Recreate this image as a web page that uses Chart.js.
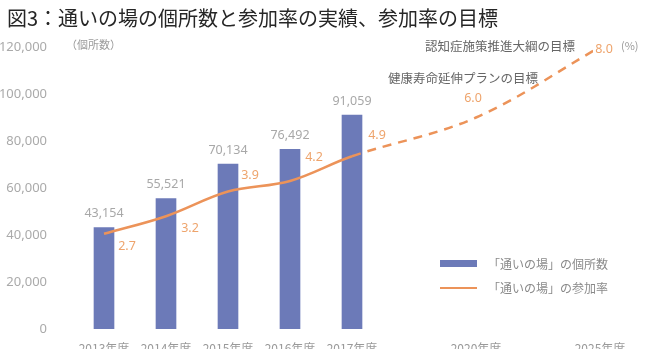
<!DOCTYPE html>
<html>
<head>
<meta charset="utf-8">
<script src="https://cdn.jsdelivr.net/npm/chart.js@4"></script>
<style>
  html, body { margin: 0; padding: 0; background: #fff; }
  #wrap { width: 645px; height: 349px; position: relative; }
</style>
</head>
<body>
<div id="wrap"><canvas id="c" width="645" height="349"></canvas></div>
<script>
// ---- data ----
const categories = ['2013年度', '2014年度', '2015年度', '2016年度', '2017年度', '', '2020年度', '', '2025年度'];
const placeCounts = [43154, 55521, 70134, 76492, 91059, null, null, null, null];
const participationRates = [2.7, 3.2, 3.9, 4.2, 4.9, null, 6.0, null, 8.0];
const leftTicks = [0, 20000, 40000, 60000, 80000, 100000, 120000];
const titleText = '図3：通いの場の個所数と参加率の実績、参加率の目標';
const countSeriesName = '「通いの場」の個所数';
const rateSeriesName = '「通いの場」の参加率';
const leftUnit = '（個所数）';
const rightUnit = '(%)';
const goal2020Text = '健康寿命延伸プランの目標';
const goal2025Text = '認知症施策推進大綱の目標';

// ---- styles ----
const BAR_COLOR = '#6c7ab8';
const LINE_COLOR = '#ec9359';
const RATE_LABEL_COLOR = '#eea46c';
const GRAY = '#9a9a9a';
const JP = '"Noto Sans CJK JP", "Noto Sans", sans-serif';
// label placement for rate labels: [dx, dy] from point
const rateLabelOffsets = [[23, 13], [24, 12], [22, -16], [24, -24], [25, -21], null, [-3, -19], null, [4, 2]];

function fmt(n) { return n.toLocaleString('en-US'); }

const overlay = {
  id: 'overlay',
  afterDatasetsDraw(chart) {
    const ctx = chart.ctx;
    ctx.save();
    // bar value labels
    const barMeta = chart.getDatasetMeta(1);
    ctx.font = '12.5px "Noto Sans", sans-serif';
    ctx.fillStyle = '#a8a8a8';
    ctx.textAlign = 'center';
    ctx.textBaseline = 'middle';
    barMeta.data.forEach((el, i) => {
      const v = placeCounts[i];
      if (v == null) return;
      ctx.fillText(fmt(v), el.x, el.y - 14);
    });
    // rate labels
    const lineMeta = chart.getDatasetMeta(0);
    ctx.font = '12.5px "Noto Sans", sans-serif';
    lineMeta.data.forEach((el, i) => {
      const v = participationRates[i];
      if (v == null) return;
      const off = rateLabelOffsets[i];
      const t = v.toFixed(1);
      const x = el.x + off[0], y = el.y + off[1];
      if (i === participationRates.length - 1) {
        ctx.fillStyle = '#fff';
        ctx.fillRect(x - 11, y - 9, 22, 18);
      }
      ctx.fillStyle = RATE_LABEL_COLOR;
      ctx.fillText(t, x, y);
    });
    ctx.restore();
  },
  afterDraw(chart) {
    const ctx = chart.ctx;
    ctx.save();
    ctx.textBaseline = 'middle';
    // title
    ctx.fillStyle = '#262626';
    ctx.font = '20px ' + JP;
    ctx.textAlign = 'left';
    ctx.fillText(titleText, 7, 18);
    // units
    ctx.fillStyle = GRAY;
    ctx.font = '11px ' + JP;
    ctx.fillText(leftUnit, 66, 45);
    ctx.fillText(rightUnit, 621, 46);
    // goal notes
    ctx.fillStyle = '#666';
    ctx.font = '12.5px ' + JP;
    ctx.fillText(goal2025Text, 425, 46);
    ctx.fillText(goal2020Text, 388, 78);
    // legend
    ctx.fillStyle = BAR_COLOR;
    ctx.fillRect(440, 260, 37, 7);
    ctx.strokeStyle = LINE_COLOR;
    ctx.lineWidth = 2;
    ctx.beginPath();
    ctx.moveTo(440, 288);
    ctx.lineTo(477, 288);
    ctx.stroke();
    ctx.fillStyle = '#8a8a8a';
    ctx.font = '12px ' + JP;
    ctx.fillText(countSeriesName, 488, 264);
    ctx.fillText(rateSeriesName, 488, 288);
    ctx.restore();
  }
};

new Chart(document.getElementById('c'), {
  type: 'bar',
  data: {
    labels: categories,
    datasets: [
      {
        type: 'line',
        label: rateSeriesName,
        data: participationRates,
        yAxisID: 'y1',
        borderColor: LINE_COLOR,
        borderWidth: 2.5,
        pointRadius: 0,
        tension: 0.35,
        spanGaps: true,
        order: 0,
        segment: {
          borderDash: c => (c.p0DataIndex >= 4 ? [9, 7] : undefined)
        }
      },
      {
        type: 'bar',
        label: countSeriesName,
        data: placeCounts,
        yAxisID: 'y',
        backgroundColor: BAR_COLOR,
        barThickness: 20,
        order: 1
      }
    ]
  },
  options: {
    responsive: false,
    animation: false,
    events: [],
    layout: { padding: { top: 47, right: 14, left: 0, bottom: 0 } },
    plugins: { legend: { display: false }, tooltip: { enabled: false }, title: { display: false } },
    scales: {
      x: {
        type: 'category',
        offset: true,
        grid: { display: false },
        border: { display: false },
        ticks: { color: GRAY, font: { size: 12, family: JP }, maxRotation: 0, autoSkip: false, padding: 4 },
        afterFit: s => { s.height = 20; s.paddingLeft = 0; s.paddingRight = 0; }
      },
      y: {
        position: 'left',
        min: 0,
        max: 120000,
        afterBuildTicks: s => { s.ticks = leftTicks.map(v => ({ value: v })); },
        grid: { display: false },
        border: { display: false },
        ticks: { color: '#aaaaaa', font: { size: 13, family: '"Noto Sans", sans-serif' }, padding: 18, callback: v => fmt(v) },
        afterFit: s => { s.width = 73; s.paddingTop = 0; s.paddingBottom = 0; }
      },
      y1: {
        position: 'right',
        min: 0,
        max: 8,
        display: false
      }
    }
  },
  plugins: [overlay]
});
</script>
</body>
</html>
